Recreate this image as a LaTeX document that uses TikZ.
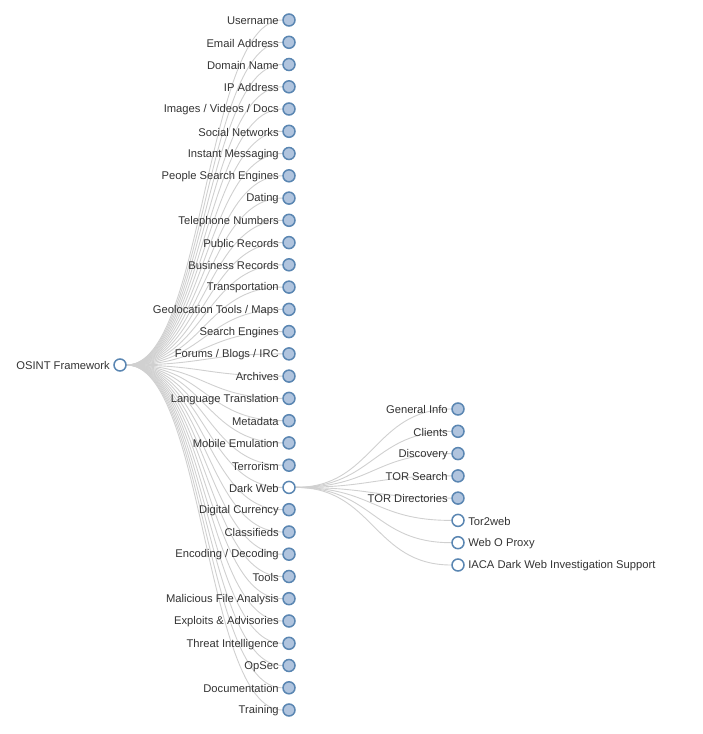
\documentclass[tikz,border=0pt]{standalone}
\usepackage{fontspec}
\setmainfont{Liberation Sans}
\usepackage{tikz}
\usetikzlibrary{positioning, shapes, backgrounds}

\definecolor{nodeedge}{HTML}{5A86B2}
\definecolor{nodefill}{HTML}{B0C4DE}
\definecolor{linkgray}{HTML}{D0D0D0}
\definecolor{labeltext}{HTML}{333333}

\tikzset{
	leaf/.style={circle, draw=nodeedge, fill=nodefill, line width=1.5pt, minimum size=12pt, inner sep=0pt},
	opennode/.style={leaf, fill=white},
	link/.style={draw=linkgray, line width=0.9pt},
	every label/.style={font=\fontsize{11.2}{13}\selectfont, text=labeltext, yshift=-0.8pt}
}

\begin{document}
\begin{tikzpicture}[x=1pt, y=-1pt]
				\useasboundingbox (0,0) rectangle (703,734);
				% Radice
				\node[opennode, label=left:OSINT Framework] (osint) at (120,365) {};
				
				% Categorie
				\node[leaf, label=left:Username] (username) at (289,20.0) {};
				\node[leaf, label=left:Email Address] (email) at (289,42.3) {};
				\node[leaf, label=left:Domain Name] (domain) at (289,64.5) {};
				\node[leaf, label=left:IP Address] (ip) at (289,86.8) {};
				\node[leaf, label=left:Images / Videos / Docs] (images) at (289,109.0) {};
				\node[leaf, label=left:Social Networks] (social) at (289,131.3) {};
				\node[leaf, label=left:Instant Messaging] (instant) at (289,153.5) {};
				\node[leaf, label=left:People Search Engines] (people) at (289,175.8) {};
				\node[leaf, label=left:Dating] (dating) at (289,198.1) {};
				\node[leaf, label=left:Telephone Numbers] (telephone) at (289,220.3) {};
				\node[leaf, label=left:Public Records] (public) at (289,242.6) {};
				\node[leaf, label=left:Business Records] (business) at (289,264.8) {};
				\node[leaf, label=left:Transportation] (transport) at (289,287.1) {};
				\node[leaf, label=left:Geolocation Tools / Maps] (geoloc) at (289,309.4) {};
				\node[leaf, label=left:Search Engines] (search) at (289,331.6) {};
				\node[leaf, label=left:Forums / Blogs / IRC] (forums) at (289,353.9) {};
				\node[leaf, label=left:Archives] (archives) at (289,376.1) {};
				\node[leaf, label=left:Language Translation] (language) at (289,398.4) {};
				\node[leaf, label=left:Metadata] (metadata) at (289,420.7) {};
				\node[leaf, label=left:Mobile Emulation] (mobile) at (289,442.9) {};
				\node[leaf, label=left:Terrorism] (terrorism) at (289,465.2) {};
				\node[opennode, label=left:Dark Web] (darkweb) at (289,487.4) {};
				\node[leaf, label=left:Digital Currency] (currency) at (289,509.7) {};
				\node[leaf, label=left:Classifieds] (classifieds) at (289,532.0) {};
				\node[leaf, label=left:Encoding / Decoding] (encoding) at (289,554.2) {};
				\node[leaf, label=left:Tools] (tools) at (289,576.5) {};
				\node[leaf, label=left:Malicious File Analysis] (malicious) at (289,598.7) {};
				\node[leaf, label=left:Exploits \& Advisories] (exploits) at (289,621.0) {};
				\node[leaf, label=left:Threat Intelligence] (threat) at (289,643.3) {};
				\node[leaf, label=left:OpSec] (opsec) at (289,665.5) {};
				\node[leaf, label=left:Documentation] (documentation) at (289,687.8) {};
				\node[leaf, label=left:Training] (training) at (289,710.0) {};
				
				% Dark Web
				\node[leaf, label=left:General Info] (geninfo) at (458,409.0) {};
				\node[leaf, label=left:Clients] (clients) at (458,431.3) {};
				\node[leaf, label=left:Discovery] (discovery) at (458,453.6) {};
				\node[leaf, label=left:TOR Search] (torsearch) at (458,475.9) {};
				\node[leaf, label=left:TOR Directories] (tordirs) at (458,498.1) {};
				\node[opennode, label=right:Tor2web] (tor2web) at (458,520.4) {};
				\node[opennode, label=right:Web O Proxy] (weboproxy) at (458,542.7) {};
				\node[opennode, label=right:IACA Dark Web Investigation Support] (iaca) at (458,565.0) {};
				
				% Collegamenti
				\begin{scope}[on background layer]
				\draw[link] (osint) .. controls +(84.5,0) and +(-84.5,0) .. (username);
				\draw[link] (osint) .. controls +(84.5,0) and +(-84.5,0) .. (email);
				\draw[link] (osint) .. controls +(84.5,0) and +(-84.5,0) .. (domain);
				\draw[link] (osint) .. controls +(84.5,0) and +(-84.5,0) .. (ip);
				\draw[link] (osint) .. controls +(84.5,0) and +(-84.5,0) .. (images);
				\draw[link] (osint) .. controls +(84.5,0) and +(-84.5,0) .. (social);
				\draw[link] (osint) .. controls +(84.5,0) and +(-84.5,0) .. (instant);
				\draw[link] (osint) .. controls +(84.5,0) and +(-84.5,0) .. (people);
				\draw[link] (osint) .. controls +(84.5,0) and +(-84.5,0) .. (dating);
				\draw[link] (osint) .. controls +(84.5,0) and +(-84.5,0) .. (telephone);
				\draw[link] (osint) .. controls +(84.5,0) and +(-84.5,0) .. (public);
				\draw[link] (osint) .. controls +(84.5,0) and +(-84.5,0) .. (business);
				\draw[link] (osint) .. controls +(84.5,0) and +(-84.5,0) .. (transport);
				\draw[link] (osint) .. controls +(84.5,0) and +(-84.5,0) .. (geoloc);
				\draw[link] (osint) .. controls +(84.5,0) and +(-84.5,0) .. (search);
				\draw[link] (osint) .. controls +(84.5,0) and +(-84.5,0) .. (forums);
				\draw[link] (osint) .. controls +(84.5,0) and +(-84.5,0) .. (archives);
				\draw[link] (osint) .. controls +(84.5,0) and +(-84.5,0) .. (language);
				\draw[link] (osint) .. controls +(84.5,0) and +(-84.5,0) .. (metadata);
				\draw[link] (osint) .. controls +(84.5,0) and +(-84.5,0) .. (mobile);
				\draw[link] (osint) .. controls +(84.5,0) and +(-84.5,0) .. (terrorism);
				\draw[link] (osint) .. controls +(84.5,0) and +(-84.5,0) .. (darkweb);
				\draw[link] (osint) .. controls +(84.5,0) and +(-84.5,0) .. (currency);
				\draw[link] (osint) .. controls +(84.5,0) and +(-84.5,0) .. (classifieds);
				\draw[link] (osint) .. controls +(84.5,0) and +(-84.5,0) .. (encoding);
				\draw[link] (osint) .. controls +(84.5,0) and +(-84.5,0) .. (tools);
				\draw[link] (osint) .. controls +(84.5,0) and +(-84.5,0) .. (malicious);
				\draw[link] (osint) .. controls +(84.5,0) and +(-84.5,0) .. (exploits);
				\draw[link] (osint) .. controls +(84.5,0) and +(-84.5,0) .. (threat);
				\draw[link] (osint) .. controls +(84.5,0) and +(-84.5,0) .. (opsec);
				\draw[link] (osint) .. controls +(84.5,0) and +(-84.5,0) .. (documentation);
				\draw[link] (osint) .. controls +(84.5,0) and +(-84.5,0) .. (training);
				
				\draw[link] (darkweb) .. controls +(84.5,0) and +(-84.5,0) .. (geninfo);
				\draw[link] (darkweb) .. controls +(84.5,0) and +(-84.5,0) .. (clients);
				\draw[link] (darkweb) .. controls +(84.5,0) and +(-84.5,0) .. (discovery);
				\draw[link] (darkweb) .. controls +(84.5,0) and +(-84.5,0) .. (torsearch);
				\draw[link] (darkweb) .. controls +(84.5,0) and +(-84.5,0) .. (tordirs);
				\draw[link] (darkweb) .. controls +(84.5,0) and +(-84.5,0) .. (tor2web);
				\draw[link] (darkweb) .. controls +(84.5,0) and +(-84.5,0) .. (weboproxy);
				\draw[link] (darkweb) .. controls +(84.5,0) and +(-84.5,0) .. (iaca);
				\end{scope}
			\end{tikzpicture}
\end{document}
